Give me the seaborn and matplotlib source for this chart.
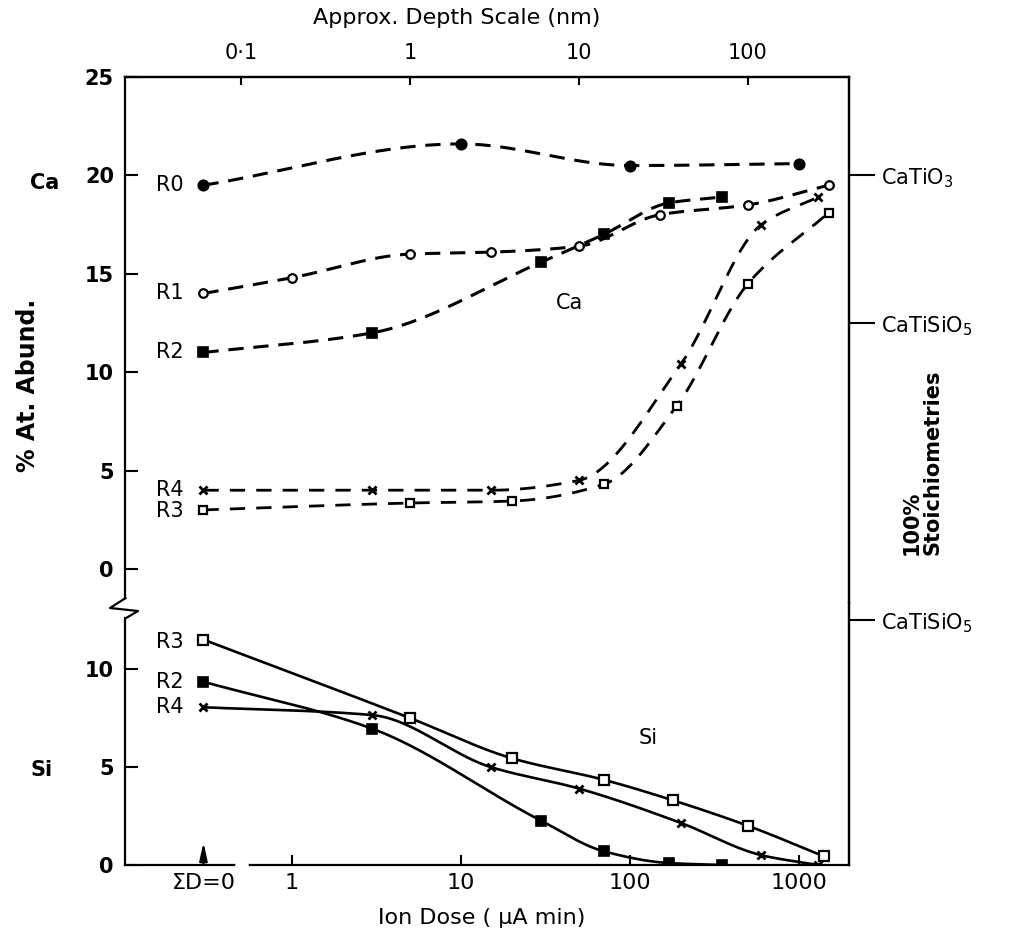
import numpy as np
import matplotlib
matplotlib.use("Agg")
import matplotlib.pyplot as plt
from matplotlib.lines import Line2D
from matplotlib.ticker import NullLocator
import seaborn as sns

# ---------------- data: % atomic abundance vs ion dose (uA min) ----------------
# dose 0 is the unsputtered surface (plotted at the "ΣD=0" position)
r0_ca_dose = [0, 10, 100, 1000]
r0_ca = [19.5, 21.6, 20.5, 20.6]

r1_ca_dose = [0, 1, 5, 15, 50, 150, 500, 1500]
r1_ca = [14.0, 14.8, 16.0, 16.1, 16.4, 18.0, 18.5, 19.5]

r2_ca_dose = [0, 3, 30, 70, 170, 350]
r2_ca = [11.0, 12.0, 15.6, 17.0, 18.6, 18.9]

r3_ca_dose = [0, 5, 20, 70, 190, 500, 1500]
r3_ca = [3.0, 3.35, 3.45, 4.3, 8.3, 14.5, 18.1]

r4_ca_dose = [0, 3, 15, 50, 200, 600, 1300]
r4_ca = [4.0, 4.0, 4.0, 4.5, 10.4, 17.5, 18.9]

r2_si_dose = [0, 3, 30, 70, 170, 350]
r2_si = [9.35, 6.95, 2.25, 0.7, 0.1, 0.0]

r3_si_dose = [0, 5, 20, 70, 180, 500, 1400]
r3_si = [11.5, 7.5, 5.45, 4.35, 3.3, 2.0, 0.45]

r4_si_dose = [0, 3, 15, 50, 200, 600, 1300]
r4_si = [8.05, 7.65, 5.0, 3.9, 2.15, 0.5, 0.0]

dose_ticks = [0, 1, 10, 100, 1000]
dose_tick_labels = ["ΣD=0", "1", "10", "100", "1000"]
depth_ticks = [0.1, 1, 10, 100]
depth_tick_labels = ["0·1", "1", "10", "100"]
ca_ticks = [0, 5, 10, 15, 20, 25]
si_ticks = [0, 5, 10]
stoich_ca = [20, 12.5]
stoich_ca_labels = ["CaTiO$_3$", "CaTiSiO$_5$"]
stoich_si = [12.5]
stoich_si_labels = ["CaTiSiO$_5$"]

ZERO_POS = 0.3          # where ΣD=0 sits on the log dose axis
DEPTH_PER_DOSE = 0.2    # approximate nm of depth per uA min

# ---------------- style ----------------
sns.set_theme(style="ticks")
plt.rcParams["font.family"] = ["DejaVu Sans"]
plt.rcParams["mathtext.default"] = "regular"
for key in ("text.color", "axes.labelcolor", "xtick.color", "ytick.color",
            "axes.edgecolor"):
    plt.rcParams[key] = "black"

W, H = 1014, 949
fig = plt.figure(figsize=(W / 100, H / 100), dpi=100)

def px_box(left, top, right, bottom):
    return [left / W, 1 - bottom / H, (right - left) / W, (bottom - top) / H]

ax1 = fig.add_axes(px_box(125, 77, 849, 603))
ax2 = fig.add_axes(px_box(125, 603, 849, 865))
XLIM = (0.103, 1980)


def pchip(x, y, xn):
    x = np.asarray(x, float)
    y = np.asarray(y, float)
    h = np.diff(x)
    d = np.diff(y) / h
    m = np.zeros_like(y)
    m[0], m[-1] = d[0], d[-1]
    for k in range(1, len(x) - 1):
        if d[k - 1] * d[k] > 0:
            w1 = 2 * h[k] + h[k - 1]
            w2 = h[k] + 2 * h[k - 1]
            m[k] = (w1 + w2) / (w1 / d[k - 1] + w2 / d[k])
    i = np.clip(np.searchsorted(x, xn) - 1, 0, len(x) - 2)
    t = (xn - x[i]) / h[i]
    h00 = 2 * t**3 - 3 * t**2 + 1
    h10 = t**3 - 2 * t**2 + t
    h01 = -2 * t**3 + 3 * t**2
    h11 = t**3 - t**2
    return h00 * y[i] + h10 * h[i] * m[i] + h01 * y[i + 1] + h11 * h[i] * m[i + 1]


def dose_pos(dose):
    d = np.asarray(dose, float)
    return np.where(d == 0, ZERO_POS, d)


def draw_series(ax, dose, vals, ls, lw, marker, ms, mfc, mew, label, dy=0):
    pos = dose_pos(dose)
    lx = np.log10(pos)
    grid = np.linspace(lx[0], lx[-1], 400)
    sns.lineplot(x=10**grid, y=pchip(lx, vals, grid), ax=ax, color="black",
                 linewidth=lw, linestyle=ls, zorder=2)
    sns.lineplot(x=pos, y=vals, ax=ax, color="black", linestyle="none",
                 marker=marker, markersize=ms, markerfacecolor=mfc,
                 markeredgecolor="black", markeredgewidth=mew, zorder=3)
    ax.annotate(label, xy=(pos[0], vals[0]), xytext=(-14, dy),
                textcoords="offset points", ha="right", va="center",
                fontsize=15, color="black")


dash_a = (0, (5, 3.2))
dash_b = (0, (5.5, 4.0))

# ---- Ca panel ----
draw_series(ax1, r0_ca_dose, r0_ca, dash_a, 2.2, "o", 7.5, "black", 1.2, "R0")
draw_series(ax1, r1_ca_dose, r1_ca, dash_a, 2.2, "o", 6.2, "white", 1.6, "R1")
draw_series(ax1, r2_ca_dose, r2_ca, dash_a, 2.2, "s", 7.0, "black", 1.2, "R2")
draw_series(ax1, r3_ca_dose, r3_ca, dash_b, 2.0, "s", 6.2, "white", 1.6, "R3", dy=-1)
draw_series(ax1, r4_ca_dose, r4_ca, dash_b, 2.0, "x", 5.5, "black", 2.0, "R4")

# ---- Si panel ----
draw_series(ax2, r3_si_dose, r3_si, "-", 1.9, "s", 6.5, "white", 1.6, "R3", dy=-2)
draw_series(ax2, r2_si_dose, r2_si, "-", 1.9, "s", 7.0, "black", 1.2, "R2")
draw_series(ax2, r4_si_dose, r4_si, "-", 1.9, "x", 5.5, "black", 2.0, "R4")

ax1.text(44, 13.5, "Ca", fontsize=15, ha="center", va="center", color="black")
ax2.text(128, 6.5, "Si", fontsize=15, ha="center", va="center", color="black")

# ---- axes ----
for ax in (ax1, ax2):
    ax.set_xscale("log")
    ax.set_xlim(*XLIM)
    ax.set_xlabel("")
    ax.set_ylabel("")
    ax.xaxis.set_minor_locator(NullLocator())
    for s in ax.spines.values():
        s.set_linewidth(1.6)
        s.set_color("black")
    ax.tick_params(axis="y", direction="in", length=9, width=1.5, labelsize=15,
                   pad=8, left=True, right=False, colors="black")

ax1.set_ylim(-1.73, 25)
ax1.set_yticks(ca_ticks)
ax1.tick_params(axis="x", which="both", bottom=False, top=False, labelbottom=False)
ax1.spines["bottom"].set_visible(False)
ax1.spines["left"].set_bounds(-1.5, 25)

ax2.set_ylim(0, 13.37)
ax2.set_yticks(si_ticks)
ax2.spines["top"].set_visible(False)
ax2.spines["left"].set_bounds(0, 12.6)
ax2.set_xticks(dose_pos(dose_ticks))
ax2.set_xticklabels(dose_tick_labels)
ax2.tick_params(axis="x", direction="in", length=7, width=1.5, labelsize=16,
                pad=6, bottom=True, top=False, colors="black")
ax2.xaxis.get_major_ticks()[0].tick1line.set_visible(False)

for ax in (ax1, ax2):
    for lab in ax.get_yticklabels():
        lab.set_fontweight("bold")

# depth scale on top
secx = ax1.secondary_xaxis("top", functions=(lambda d: d * DEPTH_PER_DOSE,
                                             lambda z: z / DEPTH_PER_DOSE))
secx.set_xticks(depth_ticks)
secx.set_xticklabels(depth_tick_labels)
secx.xaxis.set_minor_locator(NullLocator())
secx.tick_params(direction="in", length=6, width=1.5, labelsize=15, pad=10,
                 colors="black")
secx.spines["top"].set_linewidth(1.6)

# stoichiometry markers on the right
secy1 = ax1.secondary_yaxis("right")
secy1.set_yticks(stoich_ca)
secy1.set_yticklabels(stoich_ca_labels)
secy1.tick_params(direction="out", length=19, width=1.5, labelsize=15, pad=4,
                  colors="black")
secy1.spines["right"].set_linewidth(1.6)

secy2 = ax2.secondary_yaxis("right")
secy2.set_yticks(stoich_si)
secy2.set_yticklabels(stoich_si_labels)
secy2.tick_params(direction="out", length=19, width=1.5, labelsize=15, pad=4,
                  colors="black")
secy2.spines["right"].set_linewidth(1.6)

# arrow marking the unsputtered surface
ax2.annotate("", xy=(ZERO_POS, 1.15), xytext=(ZERO_POS, 0),
             arrowprops=dict(arrowstyle="-|>,head_length=0.9,head_width=0.2",
                             color="black", lw=1.5, shrinkA=0, shrinkB=0))

# axis break on the left spine and gap in the dose axis
fig.add_artist(Line2D(np.array([125.7, 110, 138, 126.2]) / W,
                      1 - np.array([598, 608, 611, 618]) / H,
                      color="black", lw=1.6))
fig.add_artist(Line2D(np.array([237, 246]) / W, [1 - 865 / H] * 2,
                      color="white", lw=3.5, zorder=10))

# labels
fig.text(457 / W, 1 - 18 / H, "Approx. Depth Scale (nm)", ha="center",
         va="center", fontsize=16)
fig.text(482 / W, 1 - 918 / H, "Ion Dose ( μA min)", ha="center",
         va="center", fontsize=16)
fig.text(28 / W, 1 - 385 / H, "% At. Abund.", rotation=90, ha="center",
         va="center", fontsize=17, fontweight="bold")
fig.text(45 / W, 1 - 183 / H, "Ca", ha="center", va="center", fontsize=15,
         fontweight="bold")
fig.text(42 / W, 1 - 770 / H, "Si", ha="center", va="center", fontsize=15,
         fontweight="bold")
fig.text(922 / W, 1 - 462 / H, "100%\nStoichiometries", rotation=90,
         ha="center", va="center", multialignment="left", fontsize=15,
         fontweight="bold", linespacing=1.1)

fig.savefig("out.png", dpi=100, facecolor="white")
